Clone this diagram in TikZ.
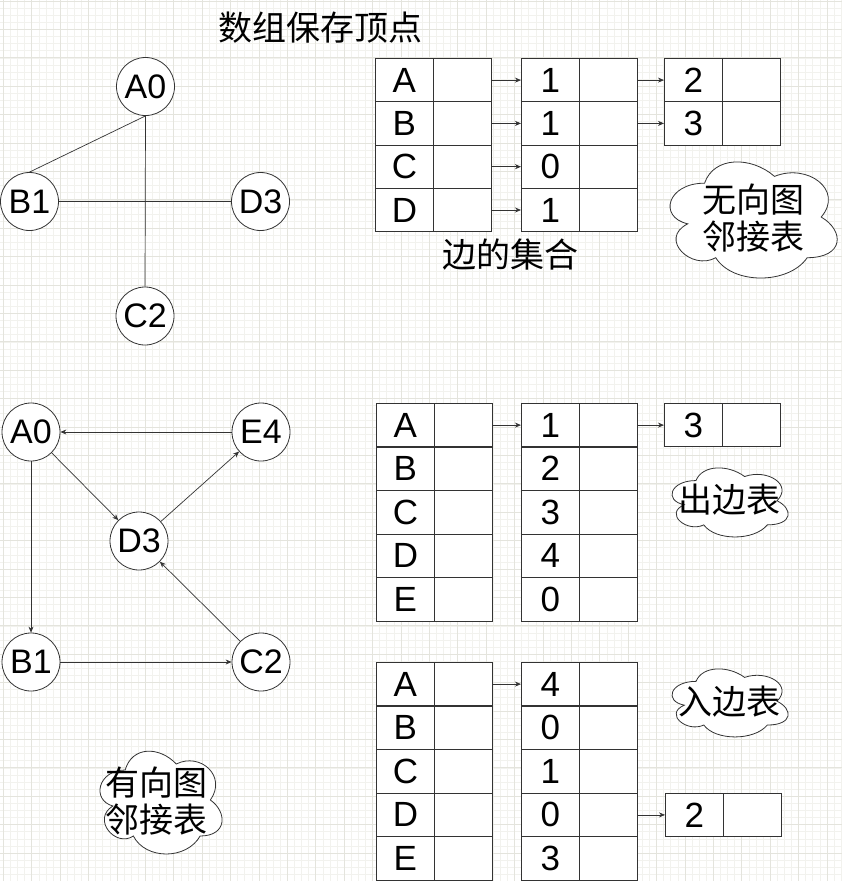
\documentclass[tikz,border=0pt]{standalone}
\usepackage{fontspec}
\setmainfont{Liberation Sans}
\newfontfamily\cjk{Noto Sans CJK SC}
\usetikzlibrary{arrows.meta}
\definecolor{gridminor}{HTML}{F2F2EE}
\definecolor{gridmajor}{HTML}{E4E4DD}
\definecolor{ink}{HTML}{333333}
\newcommand\cloudshape[4]{% x0 y0 w h
  \draw[cloudline] ({#1+0.25*#3},{#2+0.25*#4})
    .. controls ({#1+0.05*#3},{#2+0.25*#4}) and ({#1},{#2+0.5*#4}) .. ({#1+0.16*#3},{#2+0.55*#4})
    .. controls ({#1},{#2+0.66*#4}) and ({#1+0.18*#3},{#2+0.9*#4}) .. ({#1+0.31*#3},{#2+0.8*#4})
    .. controls ({#1+0.4*#3},{#2+#4}) and ({#1+0.7*#3},{#2+#4}) .. ({#1+0.8*#3},{#2+0.8*#4})
    .. controls ({#1+#3},{#2+0.8*#4}) and ({#1+#3},{#2+0.6*#4}) .. ({#1+0.875*#3},{#2+0.5*#4})
    .. controls ({#1+#3},{#2+0.3*#4}) and ({#1+0.8*#3},{#2+0.1*#4}) .. ({#1+0.625*#3},{#2+0.2*#4})
    .. controls ({#1+0.5*#3},{#2+0.05*#4}) and ({#1+0.3*#3},{#2+0.05*#4}) .. cycle;}
\begin{document}
\begin{tikzpicture}[x=1pt,y=-1pt,
  minorgrid/.style={draw=gridminor, line width=0.6pt},
  majorgrid/.style={draw=gridmajor, line width=0.8pt},
  vert/.style={draw=ink, line width=0.8pt, circle, minimum size=58pt, inner sep=0pt, fill=white, font=\fontsize{34}{38}\selectfont},
  cell/.style={draw=ink, line width=0.8pt, minimum width=58pt, minimum height=43.4pt, inner sep=0pt, fill=white, font=\fontsize{35}{38}\selectfont, anchor=north west},
  edgeline/.style={draw=ink, line width=0.7pt},
  arr/.style={edgeline, -{Stealth[length=6pt,width=5pt]}},
  cloudline/.style={draw=ink, line width=0.8pt, fill=white},
  cjklabel/.style={font=\cjk\fontsize{34}{37.5}\selectfont, align=center, inner sep=0pt}
]
\useasboundingbox (0,0) rectangle (842,881);
\fill[white] (0,0) rectangle (842,881);
% grid
\foreach \i in {0,...,118} {\draw[minorgrid] ({3.3+7.1*\i},0) -- ({3.3+7.1*\i},881);}
\foreach \i in {0,...,124} {\draw[minorgrid] (0,{1+7.1*\i}) -- (842,{1+7.1*\i});}
\foreach \i in {0,...,29} {\draw[majorgrid] ({3.3+28.4*\i},0) -- ({3.3+28.4*\i},881);}
\foreach \i in {0,...,31} {\draw[majorgrid] (0,{1+28.4*\i}) -- (842,{1+28.4*\i});}

% titles
\node[cjklabel] (title) at (320,28) {数组保存顶点};
\node[cjklabel] (edgeset) at (510,255) {边的集合};

% undirected graph
\node[vert] (uA) at (145.5,86.5) {A0};
\node[vert] (uB) at (29.5,201.5) {B1};
\node[vert] (uD) at (260.5,201.5) {D3};
\node[vert] (uC) at (145,316) {C2};
\draw[edgeline] (uA.south) -- (uB.north);
\draw[edgeline] (uA.south) -- (uC.north);
\draw[edgeline] (uB.east) -- (uD.west);

% undirected adjacency list
\foreach \r/\l/\v in {0/A/1,1/B/1,2/C/0,3/D/1} {
  \node[cell] (ua\r) at (375,{58+43.3*\r}) {\l};
  \node[cell] (ub\r) at (433,{58+43.3*\r}) {};
  \node[cell] (uc\r) at (521,{58+43.3*\r}) {\v};
  \node[cell] (ud\r) at (579,{58+43.3*\r}) {};
}
\foreach \r/\v in {0/2,1/3} {
  \node[cell] (ue\r) at (664,{58+43.3*\r}) {\v};
  \node[cell] (uf\r) at (722,{58+43.3*\r}) {};
}
\foreach \r in {0,...,3} {\draw[arr] (ub\r.east) -- (uc\r.west);}
\draw[arr] (ud0.east) -- (ue0.west);
\draw[arr] (ud1.east) -- (ue1.west);
\cloudshape{657.9}{149.3}{186.6}{135.5}
\node[cjklabel] (ucloud) at (753,218) {无向图\\邻接表};

% directed graph
\node[vert] (dA) at (31,432) {A0};
\node[vert] (dE) at (261,432) {E4};
\node[vert] (dD) at (139,541) {D3};
\node[vert] (dB) at (31,662) {B1};
\node[vert] (dC) at (261,662) {C2};
\draw[arr] (dE.west) -- (dA.east);
\draw[arr] (dA) -- (dD);
\draw[arr] (dD) -- (dE);
\draw[arr] (dC) -- (dD);
\draw[arr] (dA.south) -- (dB.north);
\draw[arr] (dB.east) -- (dC.west);
\cloudshape{91.1}{740}{136.3}{120}
\node[cjklabel] (dcloud) at (156,801) {有向图\\邻接表};

% out-edge table
\foreach \r/\l/\v in {0/A/1,1/B/2,2/C/3,3/D/4,4/E/0} {
  \node[cell] (oa\r) at (376,{403+43.6*\r}) {\l};
  \node[cell] (ob\r) at (434,{403+43.6*\r}) {};
  \node[cell] (oc\r) at (521,{403+43.6*\r}) {\v};
  \node[cell] (od\r) at (579,{403+43.6*\r}) {};
}
\node[cell] (oe0) at (664,403) {3};
\node[cell] (of0) at (722,403) {};
\draw[arr] (ob0.east) -- (oc0.west);
\draw[arr] (od0.east) -- (oe0.west);
\cloudshape{663.6}{460.4}{129.6}{80.6}
\node[cjklabel] (ocloud) at (729,500) {出边表};

% in-edge table
\foreach \r/\l/\v in {0/A/4,1/B/0,2/C/1,3/D/0,4/E/3} {
  \node[cell] (ia\r) at (376,{662+43.6*\r}) {\l};
  \node[cell] (ib\r) at (434,{662+43.6*\r}) {};
  \node[cell] (ic\r) at (521,{662+43.6*\r}) {\v};
  \node[cell] (id\r) at (579,{662+43.6*\r}) {};
}
\node[cell] (ie3) at (665,{662+43.6*3}) {2};
\node[cell] (if3) at (723,{662+43.6*3}) {};
\draw[arr] (ib0.east) -- (ic0.west);
\draw[arr] (id3.east) -- (ie3.west);
\cloudshape{663.6}{661.5}{129.6}{79.4}
\node[cjklabel] (icloud) at (729,702) {入边表};
\end{tikzpicture}
\end{document}
